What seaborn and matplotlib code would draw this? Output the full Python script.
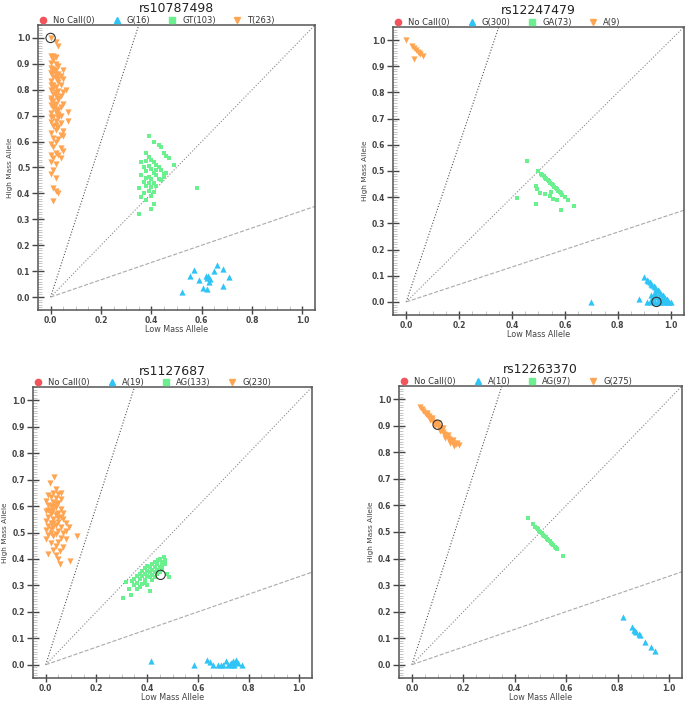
import matplotlib
matplotlib.use("Agg")
import matplotlib.pyplot as plt
from matplotlib.lines import Line2D
from matplotlib.ticker import MultipleLocator
import seaborn as sns

sns.set_style("white")
plt.rcParams["font.family"] = ["DejaVu Sans"]

# --- colours per genotype class ---
c_nocall = "#F2545B"
c_low = "#2EC4F5"     # low-mass homozygous (triangle up)
c_het = "#6BF08F"     # heterozygous (square)
c_high = "#FFA552"    # high-mass homozygous (triangle down)

titles = ["rs10787498", "rs12247479", "rs1127687", "rs12263370"]
legend_labels = [
    ["No Call(0)", "G(16)", "GT(103)", "T(263)"],
    ["No Call(0)", "G(300)", "GA(73)", "A(9)"],
    ["No Call(0)", "A(19)", "AG(133)", "G(230)"],
    ["No Call(0)", "A(10)", "AG(97)", "G(275)"],
]

# ============================================
# rs10787498
# ============================================
p1_high_x = [0.00, 0.02, 0.03, 0.00, 0.01, 0.02, 0.01, 0.00, 0.02, 0.03, 0.00, 0.01, 0.02, 0.05,
             0.00, 0.03, 0.04, 0.01, 0.02, 0.05, 0.00, 0.03, 0.01, 0.04, 0.02, 0.06, 0.00, 0.03,
             0.05, 0.01, 0.02, 0.04, 0.00, 0.03, 0.01, 0.02, 0.05, 0.00, 0.04, 0.01, 0.03, 0.02,
             0.07, 0.00, 0.04, 0.01, 0.03, 0.02, 0.07, 0.00, 0.04, 0.01, 0.03, 0.02, 0.05, 0.00,
             0.04, 0.05, 0.01, 0.03, 0.02, 0.00, 0.01, 0.04, 0.05, 0.02, 0.00, 0.03, 0.01, 0.04,
             0.00, 0.02, 0.01, 0.00, 0.02, 0.01, 0.02, 0.03, 0.01, 0.00, 0.01, 0.02, 0.03, 0.00,
             0.01, 0.02, 0.03, 0.00, 0.01, 0.02, 0.03, 0.00, 0.02, 0.03]
p1_high_y = [1.00, 0.985, 0.97, 0.93, 0.93, 0.925, 0.915, 0.905, 0.90, 0.89, 0.885, 0.88, 0.875, 0.875,
             0.865, 0.86, 0.855, 0.85, 0.845, 0.84, 0.835, 0.83, 0.82, 0.82, 0.81, 0.80, 0.80, 0.795,
             0.79, 0.785, 0.775, 0.775, 0.77, 0.76, 0.755, 0.745, 0.745, 0.74, 0.735, 0.73, 0.72, 0.715,
             0.715, 0.71, 0.70, 0.695, 0.69, 0.68, 0.68, 0.675, 0.67, 0.66, 0.655, 0.645, 0.64, 0.635,
             0.625, 0.62, 0.615, 0.61, 0.60, 0.59, 0.58, 0.575, 0.565, 0.555, 0.55, 0.55, 0.535, 0.535,
             0.52, 0.515, 0.49, 0.475, 0.46, 0.42, 0.41, 0.40, 0.37, 0.865, 0.87, 0.86, 0.84, 0.82,
             0.805, 0.79, 0.77, 0.76, 0.74, 0.725, 0.705, 0.695, 0.665, 0.70]
p1_het_x = [0.39, 0.41, 0.43, 0.44, 0.45, 0.46, 0.47, 0.49, 0.38, 0.39, 0.36, 0.38, 0.40, 0.41,
            0.42, 0.37, 0.39, 0.40, 0.43, 0.44, 0.38, 0.41, 0.42, 0.45, 0.36, 0.39, 0.40, 0.43,
            0.37, 0.41, 0.44, 0.38, 0.40, 0.42, 0.35, 0.39, 0.41, 0.37, 0.40, 0.38, 0.36, 0.41,
            0.40, 0.35, 0.58, 0.45, 0.46, 0.42, 0.38, 0.39]
p1_het_y = [0.62, 0.60, 0.585, 0.58, 0.555, 0.545, 0.535, 0.51, 0.555, 0.54, 0.52, 0.525, 0.53, 0.52,
            0.51, 0.50, 0.505, 0.495, 0.50, 0.49, 0.485, 0.48, 0.47, 0.475, 0.47, 0.465, 0.455, 0.455,
            0.445, 0.44, 0.45, 0.43, 0.425, 0.43, 0.42, 0.41, 0.405, 0.40, 0.39, 0.375, 0.385, 0.36,
            0.34, 0.32, 0.42, 0.465, 0.48, 0.49, 0.46, 0.44]
p1_low_x = [0.52, 0.553, 0.571, 0.589, 0.606, 0.617, 0.622, 0.62, 0.63, 0.634, 0.648, 0.659,
            0.683, 0.685, 0.709, 0.625]
p1_low_y = [0.02, 0.083, 0.105, 0.067, 0.035, 0.083, 0.03, 0.075, 0.06, 0.068, 0.102, 0.125,
            0.043, 0.109, 0.077, 0.08]

# ============================================
# rs12247479
# ============================================
p2_high_x = [0.00, 0.02, 0.029, 0.038, 0.045, 0.054, 0.063, 0.029, 0.048]
p2_high_y = [1.00, 0.979, 0.97, 0.961, 0.953, 0.945, 0.938, 0.928, 0.95]
p2_het_x = [0.50, 0.51, 0.52, 0.53, 0.54, 0.55, 0.56, 0.57, 0.58, 0.59, 0.60, 0.61, 0.515, 0.525,
            0.535, 0.545, 0.555, 0.565, 0.575, 0.585, 0.458, 0.492, 0.494, 0.506, 0.525, 0.548,
            0.542, 0.555, 0.571, 0.42, 0.49, 0.586, 0.633]
p2_het_y = [0.50, 0.49, 0.48, 0.47, 0.46, 0.45, 0.44, 0.43, 0.42, 0.41, 0.40, 0.39, 0.485, 0.475,
            0.465, 0.455, 0.445, 0.435, 0.425, 0.415, 0.538, 0.444, 0.432, 0.414, 0.412, 0.418,
            0.403, 0.393, 0.39, 0.397, 0.375, 0.35, 0.365]
p2_low_x = [0.90, 0.91, 0.915, 0.92, 0.925, 0.93, 0.935, 0.94, 0.945, 0.95, 0.955, 0.96, 0.965,
            0.97, 0.975, 0.98, 0.985, 0.99, 1.00, 0.995, 0.91, 0.92, 0.93, 0.94, 0.95, 0.96, 0.97,
            0.98, 0.99, 0.925, 0.935, 0.93, 0.945, 0.955, 0.965, 0.94, 0.70, 0.88]
p2_low_y = [0.095, 0.085, 0.08, 0.075, 0.07, 0.065, 0.06, 0.055, 0.05, 0.045, 0.04, 0.035, 0.03,
            0.025, 0.02, 0.015, 0.01, 0.005, 0.00, 0.00, 0.00, 0.00, 0.005, 0.00, 0.00, 0.00, 0.00,
            0.00, 0.00, 0.025, 0.03, 0.015, 0.02, 0.015, 0.01, 0.035, 0.00, 0.01]

# ============================================
# rs1127687
# ============================================
p3_high_x = [0.033, 0.016, 0.042, 0.03, 0.05, 0.01, 0.02, 0.04, 0.06, 0.00, 0.03, 0.05, 0.01, 0.02,
             0.04, 0.06, 0.03, 0.00, 0.05, 0.02, 0.04, 0.01, 0.06, 0.03, 0.07, 0.00, 0.05, 0.02,
             0.04, 0.08, 0.01, 0.03, 0.06, 0.00, 0.05, 0.02, 0.07, 0.04, 0.01, 0.03, 0.06, 0.00,
             0.08, 0.05, 0.02, 0.123, 0.04, 0.07, 0.03, 0.055, 0.01, 0.04, 0.05, 0.058, 0.097,
             0.09, 0.08, 0.07, 0.06, 0.03, 0.02, 0.04, 0.01, 0.05, 0.03, 0.02, 0.045]
p3_high_y = [0.708, 0.686, 0.663, 0.65, 0.645, 0.64, 0.635, 0.63, 0.625, 0.62, 0.615, 0.61, 0.605, 0.60,
             0.595, 0.59, 0.585, 0.58, 0.575, 0.57, 0.565, 0.56, 0.56, 0.55, 0.55, 0.545, 0.54, 0.535,
             0.53, 0.535, 0.525, 0.52, 0.52, 0.51, 0.505, 0.50, 0.50, 0.495, 0.49, 0.485, 0.48, 0.475,
             0.475, 0.465, 0.46, 0.487, 0.45, 0.445, 0.435, 0.43, 0.42, 0.415, 0.40, 0.381, 0.392,
             0.52, 0.505, 0.575, 0.65, 0.60, 0.58, 0.61, 0.585, 0.555, 0.535, 0.515, 0.57]
p3_het_x = [0.468, 0.442, 0.45, 0.43, 0.46, 0.42, 0.44, 0.47, 0.40, 0.41, 0.43, 0.45, 0.39, 0.42,
            0.44, 0.46, 0.38, 0.40, 0.41, 0.43, 0.45, 0.37, 0.39, 0.42, 0.44, 0.48, 0.36, 0.38,
            0.40, 0.41, 0.43, 0.35, 0.37, 0.39, 0.34, 0.36, 0.318, 0.38, 0.35, 0.37, 0.40, 0.335,
            0.305, 0.413, 0.488, 0.33, 0.36, 0.39, 0.42, 0.46, 0.47]
p3_het_y = [0.409, 0.396, 0.40, 0.39, 0.39, 0.38, 0.38, 0.38, 0.375, 0.37, 0.37, 0.37, 0.365, 0.36,
            0.36, 0.36, 0.355, 0.355, 0.35, 0.35, 0.35, 0.345, 0.345, 0.34, 0.345, 0.345, 0.335, 0.335,
            0.335, 0.33, 0.33, 0.325, 0.325, 0.32, 0.315, 0.31, 0.314, 0.305, 0.30, 0.295, 0.30, 0.264,
            0.252, 0.279, 0.333, 0.285, 0.285, 0.31, 0.32, 0.375, 0.395]
p3_low_x = [0.416, 0.584, 0.635, 0.648, 0.661, 0.68, 0.69, 0.709, 0.718, 0.731, 0.74, 0.751, 0.757,
            0.744, 0.774, 0.725, 0.735, 0.748, 0.70]
p3_low_y = [0.013, 0.0, 0.019, 0.01, 0.0, 0.0, 0.0, 0.013, 0.0, 0.007, 0.013, 0.019, 0.007,
            0.0, 0.0, 0.003, 0.0, 0.01, 0.0]

# ============================================
# rs12263370
# ============================================
p4_high_x = [0.03, 0.04, 0.045, 0.05, 0.055, 0.06, 0.065, 0.07, 0.075, 0.08, 0.085, 0.09, 0.095,
             0.10, 0.105, 0.11, 0.115, 0.12, 0.125, 0.13, 0.135, 0.14, 0.145, 0.15, 0.155, 0.16,
             0.17, 0.183, 0.06, 0.08, 0.10, 0.12, 0.14, 0.16, 0.07, 0.09, 0.11, 0.13, 0.15, 0.165,
             0.175]
p4_high_y = [0.97, 0.965, 0.955, 0.95, 0.945, 0.94, 0.935, 0.93, 0.925, 0.92, 0.915, 0.91, 0.905,
             0.90, 0.895, 0.89, 0.885, 0.875, 0.87, 0.865, 0.86, 0.855, 0.85, 0.845, 0.84, 0.835,
             0.83, 0.826, 0.95, 0.93, 0.91, 0.89, 0.865, 0.845, 0.92, 0.90, 0.88, 0.855, 0.835, 0.825,
             0.835]
p4_het_x = [0.451, 0.472, 0.48, 0.485, 0.49, 0.495, 0.50, 0.505, 0.51, 0.515, 0.52, 0.525, 0.53,
            0.535, 0.54, 0.545, 0.55, 0.555, 0.56, 0.565, 0.588]
p4_het_y = [0.552, 0.53, 0.52, 0.515, 0.51, 0.505, 0.50, 0.495, 0.49, 0.485, 0.48, 0.475, 0.47,
            0.465, 0.46, 0.455, 0.45, 0.445, 0.44, 0.434, 0.41]
p4_low_x = [0.819, 0.855, 0.864, 0.872, 0.881, 0.887, 0.907, 0.929, 0.946, 0.868]
p4_low_y = [0.179, 0.142, 0.132, 0.124, 0.117, 0.112, 0.086, 0.067, 0.053, 0.128]

# selected sample circled in each plot
circle_x = [0.0, 0.946, 0.453, 0.10]
circle_y = [1.0, 0.0, 0.34, 0.904]

panels = [
    (p1_low_x, p1_low_y, p1_het_x, p1_het_y, p1_high_x, p1_high_y),
    (p2_low_x, p2_low_y, p2_het_x, p2_het_y, p2_high_x, p2_high_y),
    (p3_low_x, p3_low_y, p3_het_x, p3_het_y, p3_high_x, p3_high_y),
    (p4_low_x, p4_low_y, p4_het_x, p4_het_y, p4_high_x, p4_high_y),
]

# cluster guide lines through the origin
guide_slopes = [3.0, 1.0, 1 / 3]
guide_styles = [(":", "#555555"), (":", "#888888"), ("--", "#AAAAAA")]

# axes boxes (left, bottom, width, height) in figure fraction
boxes = [
    [0.0555, 0.5584, 0.4044, 0.4060],
    [0.5737, 0.5513, 0.4248, 0.4103],
    [0.0482, 0.0342, 0.4073, 0.4145],
    [0.5825, 0.0342, 0.4131, 0.4160],
]

fig = plt.figure(figsize=(6.85, 7.02), dpi=100)

for i in range(4):
    ax = fig.add_axes(boxes[i])
    lx, ly, hx, hy, ox, oy = panels[i]
    lim = 1.05

    for slope, (ls, col) in zip(guide_slopes, guide_styles):
        x_end = min(lim, lim / slope)
        ax.plot([0, x_end], [0, x_end * slope], linestyle=ls, color=col, linewidth=0.8, zorder=1)

    sns.scatterplot(x=lx, y=ly, marker="^", color=c_low, s=20, linewidth=0, ax=ax, legend=False, zorder=3)
    sns.scatterplot(x=hx, y=hy, marker="s", color=c_het, s=12, linewidth=0, ax=ax, legend=False, zorder=3)
    sns.scatterplot(x=ox, y=oy, marker="v", color=c_high, s=20, linewidth=0, ax=ax, legend=False, zorder=3)
    ax.scatter(circle_x[i], circle_y[i], s=45, facecolors="none", edgecolors="#333333",
               linewidths=0.8, zorder=4)

    ax.set_xlim(-0.05, lim)
    ax.set_ylim(-0.05, lim)
    ax.xaxis.set_major_locator(MultipleLocator(0.2))
    ax.xaxis.set_minor_locator(MultipleLocator(0.05))
    ax.yaxis.set_major_locator(MultipleLocator(0.1))
    ax.yaxis.set_minor_locator(MultipleLocator(0.01))
    ax.xaxis.set_major_formatter(plt.FormatStrFormatter("%.1f"))
    ax.yaxis.set_major_formatter(plt.FormatStrFormatter("%.1f"))
    ax.tick_params(which="major", direction="inout", width=1.0, color="#444444",
                   labelsize=5.5, labelcolor="#444444", pad=1.5)
    ax.tick_params(axis="x", which="major", length=6)
    ax.tick_params(axis="y", which="major", length=8)
    ax.tick_params(which="minor", direction="in", length=3, width=0.6, color="#BBBBBB")
    ax.tick_params(which="both", bottom=True, left=True, top=False, right=False)
    for lab in ax.get_xticklabels() + ax.get_yticklabels():
        lab.set_fontweight("bold")

    for side in ["left", "bottom", "top", "right"]:
        ax.spines[side].set_color("#555555")
        ax.spines[side].set_linewidth(1.1)

    ax.set_xlabel("Low Mass Allele", fontsize=5.8, color="#444444", labelpad=0)
    ax.set_ylabel("High Mass Allele", fontsize=5.3, color="#444444", labelpad=3)
    ax.set_title(titles[i], fontsize=9, color="#222222", pad=9)

    handles = [
        Line2D([], [], marker="o", linestyle="", color=c_nocall, markersize=4.5),
        Line2D([], [], marker="^", linestyle="", color=c_low, markersize=4.5),
        Line2D([], [], marker="s", linestyle="", color=c_het, markersize=4),
        Line2D([], [], marker="v", linestyle="", color=c_high, markersize=4.5),
    ]
    leg = ax.legend(handles, legend_labels[i], loc="lower left", bbox_to_anchor=(0.0, 1.0),
                    ncol=4, frameon=False, fontsize=6, handletextpad=0.6, columnspacing=2.0,
                    borderaxespad=0, borderpad=0.05, handlelength=1.2)
    for t in leg.get_texts():
        t.set_color("#333333")

plt.savefig("out.png", dpi=100)
plt.close()
